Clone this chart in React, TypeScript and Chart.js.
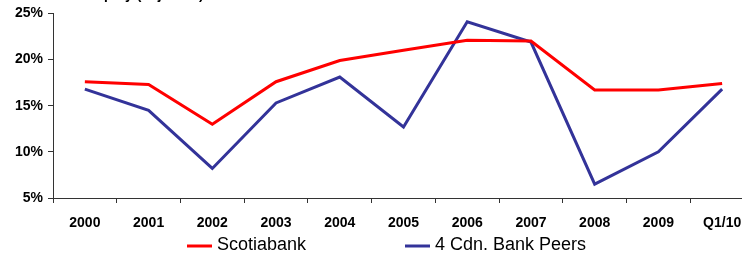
import React, { useEffect, useRef } from "react";
import { Chart, registerables } from "chart.js";

Chart.register(...registerables);

const categories = ["2000", "2001", "2002", "2003", "2004", "2005", "2006", "2007", "2008", "2009", "Q1/10"];
const scotiabank = [17.6, 17.3, 13.0, 17.6, 19.9, 21.0, 22.1, 22.0, 16.7, 16.7, 17.4];
const peers = [16.8, 14.5, 8.2, 15.3, 18.1, 12.7, 24.1, 21.9, 6.5, 10.0, 16.8];
const seriesNames = ["Scotiabank", "4 Cdn. Bank Peers"];
const seriesColors = ["#FF0000", "#333399"];
const titleText = "Return on Equity (adjusted)";

const FONT = '"Liberation Sans", Arial, sans-serif';

const legendPlugin = {
  id: "customLegend",
  afterDraw(chart: any) {
    const ctx = chart.ctx;
    ctx.save();
    // partially visible title at the very top
    ctx.font = `bold 14px ${FONT}`;
    ctx.fillStyle = "#000";
    ctx.textBaseline = "alphabetic";
    ctx.textAlign = "left";
    ctx.fillText(titleText, 20, -1);

    const items = [
      { x: 187, label: seriesNames[0], color: seriesColors[0] },
      { x: 405, label: seriesNames[1], color: seriesColors[1] },
    ];
    ctx.font = `18px ${FONT}`;
    ctx.textBaseline = "middle";
    items.forEach((it) => {
      ctx.strokeStyle = it.color;
      ctx.lineWidth = 3;
      ctx.beginPath();
      ctx.moveTo(it.x, 246);
      ctx.lineTo(it.x + 25, 246);
      ctx.stroke();
      ctx.fillStyle = "#000";
      ctx.fillText(it.label, it.x + 30, 245);
    });
    ctx.restore();
  },
};

export default function App() {
  const ref = useRef<HTMLCanvasElement>(null);
  useEffect(() => {
    if (!ref.current) return;
    const chart = new Chart(ref.current, {
      type: "line",
      data: {
        labels: categories,
        datasets: [
          {
            label: seriesNames[0],
            data: scotiabank,
            borderColor: seriesColors[0],
            backgroundColor: seriesColors[0],
            borderWidth: 3,
            pointRadius: 0,
            tension: 0,
          },
          {
            label: seriesNames[1],
            data: peers,
            borderColor: seriesColors[1],
            backgroundColor: seriesColors[1],
            borderWidth: 3,
            pointRadius: 0,
            tension: 0,
          },
        ],
      },
      options: {
        responsive: false,
        animation: false,
        layout: { padding: { top: 13, right: 6, left: 0, bottom: 0 } },
        plugins: {
          legend: { display: false },
          tooltip: { enabled: false },
          title: { display: false },
        },
        scales: {
          x: {
            type: "category",
            offset: true,
            afterFit: (s: any) => {
              s.height = 58;
            },
            grid: {
              display: true,
              offset: true,
              drawOnChartArea: false,
              drawTicks: true,
              tickLength: 5,
              color: "#333",
            },
            border: { display: true, color: "#333", width: 1 },
            ticks: {
              color: "#000",
              font: { family: FONT, size: 14, weight: "bold" },
              padding: 12,
              maxRotation: 0,
              autoSkip: false,
            },
          },
          y: {
            min: 5,
            max: 25,
            afterFit: (s: any) => {
              s.width = 53;
            },
            grid: {
              display: true,
              drawOnChartArea: false,
              drawTicks: true,
              tickLength: 5,
              color: "#333",
            },
            border: { display: true, color: "#333", width: 1 },
            ticks: {
              stepSize: 5,
              color: "#000",
              font: { family: FONT, size: 14, weight: "bold" },
              padding: 5,
              callback: (v: any) => `${v}%`,
            },
          },
        },
      },
      plugins: [legendPlugin],
    });
    return () => chart.destroy();
  }, []);

  return (
    <div
      style={{
        position: "absolute",
        left: 0,
        top: 0,
        width: 742,
        height: 256,
        overflow: "hidden",
        background: "#fff",
      }}
    >
      <canvas ref={ref} width={760} height={256} style={{ width: 760, height: 256, display: "block" }} />
    </div>
  );
}
